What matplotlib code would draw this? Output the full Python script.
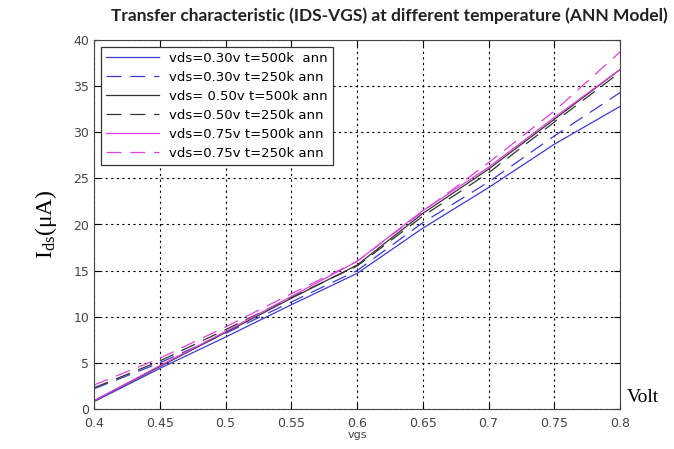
import matplotlib
matplotlib.use('Agg')
import matplotlib.pyplot as plt

# vgs 값과 각 곡선의 Ids (uA)
vgs = [0.4, 0.45, 0.5, 0.55, 0.6, 0.65, 0.7, 0.75, 0.8]
ids_030_500 = [0.8, 4.4, 7.8, 11.3, 14.7, 19.6, 24.0, 28.7, 32.8]
ids_030_250 = [2.2, 5.0, 8.2, 11.6, 15.0, 20.2, 24.6, 29.6, 34.3]
ids_050_500 = [0.9, 4.6, 8.3, 12.0, 15.6, 21.2, 26.0, 31.4, 36.8]
ids_050_250 = [2.3, 5.2, 8.6, 12.1, 15.5, 20.9, 25.6, 31.1, 36.5]
ids_075_500 = [0.9, 4.7, 8.4, 12.2, 16.0, 21.5, 26.2, 31.6, 36.8]
ids_075_250 = [2.6, 5.5, 8.9, 12.5, 16.0, 21.4, 26.7, 32.3, 38.7]

labels = ['vds=0.30v t=500k  ann', 'vds=0.30v t=250k ann', 'vds= 0.50v t=500k ann',
          'vds=0.50v t=250k ann', 'vds=0.75v t=500k ann', 'vds=0.75v t=250k ann']
series = [ids_030_500, ids_030_250, ids_050_500, ids_050_250, ids_075_500, ids_075_250]
colors = ['#3b3bd6', '#3b3bd6', '#333333', '#333333', '#e040e0', '#e040e0']
styles = ['-', (0, (12, 7)), '-', (0, (12, 7)), '-', (0, (12, 7))]

fig = plt.figure(figsize=(6.74, 4.49), dpi=100)
ax = fig.add_axes([0.1395, 0.089, 0.7805, 0.822])

for y, lab, c, ls in zip(series, labels, colors, styles):
    ax.plot(vgs, y, color=c, linestyle=ls, linewidth=0.9, label=lab)

ax.set_xlim(0.4, 0.8)
ax.set_ylim(0, 40)
ax.set_xticks([0.4, 0.45, 0.5, 0.55, 0.6, 0.65, 0.7, 0.75, 0.8])
ax.set_xticklabels(['0.4', '0.45', '0.5', '0.55', '0.6', '0.65', '0.7', '0.75', '0.8'])
ax.set_yticks(range(0, 41, 5))
ax.grid(True, color='black', linestyle=(0, (2, 3)), linewidth=0.8)
ax.tick_params(direction='in', top=True, right=True, labelsize=9, labelcolor='#444444', length=4)
ax.tick_params(axis='x', pad=6)
for s in ax.spines.values():
    s.set_color('#444444')

ax.set_xlabel('vgs', fontsize=8, color='#444444', labelpad=0)
ax.set_ylabel(r'$\mathregular{I_{ds}}$(μA)', fontsize=17, family='Liberation Serif', labelpad=10)
ax.text(1.012, 0.02, 'Volt', transform=ax.transAxes, fontsize=14, family='Liberation Serif')
fig.text(0.578, 0.965, 'Transfer characteristic (IDS-VGS) at different temperature (ANN Model)',
         ha='center', va='center', fontsize=12.5, fontweight='bold', family='Lato', color='#222222')

leg = ax.legend(loc='upper left', fontsize=9.5, handlelength=4, fancybox=False,
                framealpha=1, edgecolor='#333333', borderaxespad=0.5, labelspacing=0.45)
leg.get_frame().set_linewidth(0.9)

plt.savefig('out.png')
